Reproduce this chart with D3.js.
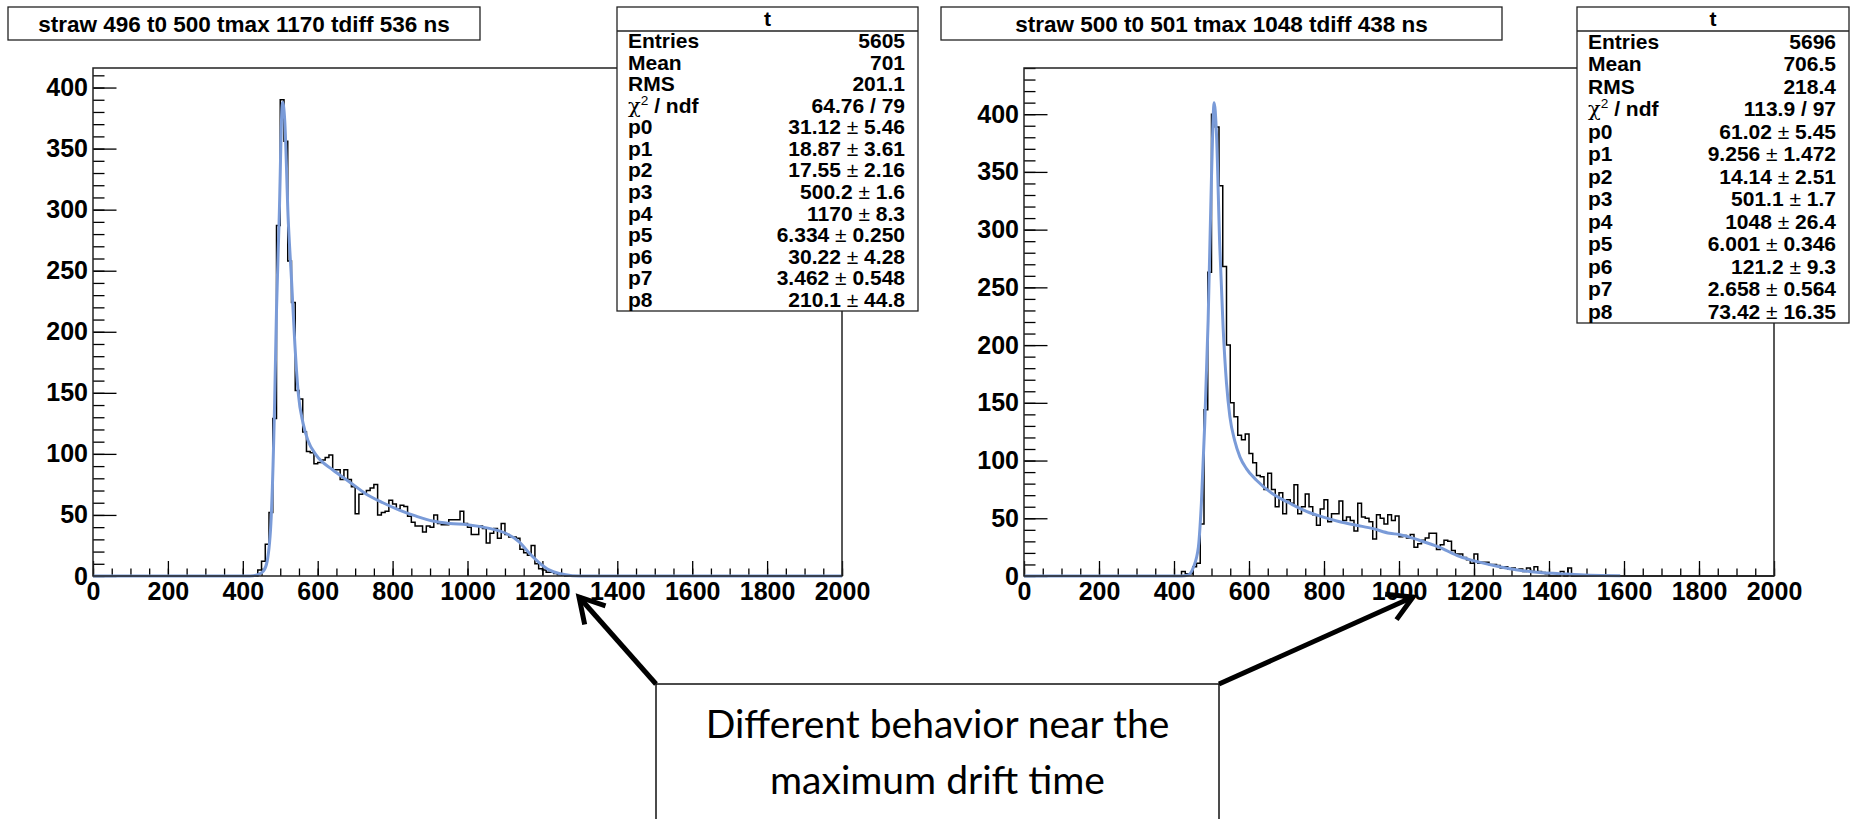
<!DOCTYPE html>
<html>
<head>
<meta charset="utf-8">
<script src="https://cdn.jsdelivr.net/npm/d3@7"></script>
<style>
  body { margin: 0; background: #fff; }
  svg { display: block; }
</style>
</head>
<body>
<div id="chart"></div>
<script>
// histogram bins are 10 ns wide, counts listed from the first filled bin, empty elsewhere
const binWidth = 10;
const xTicks = [0, 200, 400, 600, 800, 1000, 1200, 1400, 1600, 1800, 2000];

const leftTitle = "straw 496 t0 500 tmax 1170 tdiff 536 ns";
const leftStart = 440;
const leftCounts = [5, 12, 26, 52, 129, 287, 390, 356, 258, 224,
    152, 145, 118, 102, 101, 92, 93, 95, 97, 99,
    87, 87, 79, 87, 79, 73, 51, 67, 68, 70,
    72, 75, 50, 52, 53, 62, 59, 55, 58, 57,
    49, 44, 41, 41, 36, 41, 40, 50, 43, 42,
    42, 46, 46, 46, 53, 43, 40, 34, 34, 41,
    39, 27, 35, 39, 31, 43, 34, 32, 32, 31,
    22, 19, 17, 25, 10, 6, 5, 3, 3, 2,
    1, 1];
const leftFitX = [0, 420, 440, 455, 465, 476, 485, 490, 497, 506, 512, 521, 530, 539, 548, 561, 574, 596, 640, 685, 730, 774, 818, 863, 907, 952, 1000, 1058, 1102, 1138, 1164, 1191, 1218, 1245, 1280, 1320, 2000];
const leftFitY = [0, 0, 1, 4, 12, 49, 142, 218, 291, 388, 373, 294, 243, 190, 150, 125, 111, 99, 87, 77, 67, 60, 54, 49, 45, 43, 42, 39, 35, 28, 19, 11, 5, 2, 0.3, 0, 0];
const leftSummary = ["5605", "701", "201.1", "64.76 / 79"];
const leftParVals = ["31.12", "18.87", "17.55", "500.2", "1170", "6.334", "30.22", "3.462", "210.1"];
const leftParErrs = ["5.46", "3.61", "2.16", "1.6", "8.3", "0.250", "4.28", "0.548", "44.8"];

const rightTitle = "straw 500 t0 501 tmax 1048 tdiff 438 ns";
const rightStart = 420;
const rightCounts = [4, 2, 2, 8, 11, 45, 144, 263, 400, 389,
    338, 268, 200, 150, 138, 122, 118, 123, 106, 98,
    87, 86, 75, 89, 75, 60, 72, 54, 66, 63,
    79, 54, 60, 71, 60, 53, 44, 58, 66, 47,
    54, 54, 65, 48, 51, 48, 39, 63, 51, 50,
    47, 32, 53, 50, 45, 53, 48, 52, 34, 35,
    33, 36, 25, 28, 31, 33, 37, 37, 23, 27,
    31, 30, 22, 19, 19, 16, 14, 11, 19, 11,
    12, 12, 10, 10, 9, 7, 8, 6, 7, 5,
    6, 4, 7, 4, 8, 4, 3, 2, 0, 0,
    0, 4, 0, 7];
const rightFitX = [0, 420, 438, 451, 465, 473, 482, 491, 500, 507, 513, 522, 531, 540, 549, 562, 576, 593, 620, 664, 709, 753, 798, 842, 886, 931, 975, 1000, 1054, 1107, 1161, 1214, 1268, 1321, 1375, 1429, 1482, 1540, 1590];
const rightFitY = [0, 0, 1, 7, 25, 63, 132, 221, 346, 410, 385, 286, 215, 167, 138, 117, 103, 93, 83, 71, 63, 56, 51, 47, 44, 41, 37, 36, 31, 25, 17, 12, 8, 5, 3, 2, 1, 0.4, 0.2];
const rightSummary = ["5696", "706.5", "218.4", "113.9 / 97"];
const rightParVals = ["61.02", "9.256", "14.14", "501.1", "1048", "6.001", "121.2", "2.658", "73.42"];
const rightParErrs = ["5.45", "1.472", "2.51", "1.7", "26.4", "0.346", "9.3", "0.564", "16.35"];

const statNames = ["Entries", "Mean", "RMS", "chi2", "p0", "p1", "p2", "p3", "p4", "p5", "p6", "p7", "p8"];
const noteLines = ["Different behavior near the", "maximum drift time"];

const width = 1854, height = 819;
const rootFont = "'Liberation Sans', Arial, Helvetica, sans-serif";
const fitColor = "#7a9bd8";
const tickFont = 25;

const svg = d3.select("#chart").append("svg")
    .attr("width", width)
    .attr("height", height)
    .attr("viewBox", [0, 0, width, height]);

const panels = [
    { title: leftTitle, start: leftStart, counts: leftCounts, fitX: leftFitX, fitY: leftFitY,
      summary: leftSummary, parVals: leftParVals, parErrs: leftParErrs,
      frame: { left: 93, right: 842, top: 68, bottom: 576 }, yMax: 416,
      titleBox: { x: 8, y: 7, w: 472, h: 33 }, statBox: { x: 617, y: 7, w: 301, h: 304 } },
    { title: rightTitle, start: rightStart, counts: rightCounts, fitX: rightFitX, fitY: rightFitY,
      summary: rightSummary, parVals: rightParVals, parErrs: rightParErrs,
      frame: { left: 1024, right: 1774, top: 68, bottom: 576 }, yMax: 440,
      titleBox: { x: 941, y: 7, w: 561, h: 33 }, statBox: { x: 1577, y: 7, w: 272, h: 316 } }
];

panels.forEach(p => drawPanel(p));
drawNote();

function drawPanel(p) {
    const f = p.frame;
    const x = d3.scaleLinear().domain([0, 2000]).range([f.left, f.right]);
    const y = d3.scaleLinear().domain([0, p.yMax]).range([f.bottom, f.top]);
    const g = svg.append("g");

    // minor ticks first, then the labelled ones
    g.append("g")
        .attr("transform", `translate(${f.left},0)`)
        .call(d3.axisLeft(y).tickValues(d3.range(0, p.yMax + 0.1, 10)).tickSize(-11.5).tickFormat(""))
        .call(a => a.select(".domain").remove());
    g.append("g")
        .attr("transform", `translate(${f.left},0)`)
        .call(d3.axisLeft(y).tickValues(d3.range(0, p.yMax + 0.1, 50)).tickSize(-23.5).tickPadding(5).tickFormat(d => d))
        .call(a => a.select(".domain").remove())
        .call(a => a.selectAll("text").attr("font-family", rootFont).attr("font-weight", "bold").attr("font-size", tickFont).attr("fill", "#000"));

    g.append("g")
        .attr("transform", `translate(0,${f.bottom})`)
        .call(d3.axisBottom(x).tickValues(d3.range(0, 2001, 50)).tickSize(-7.5).tickFormat(""))
        .call(a => a.select(".domain").remove());
    g.append("g")
        .attr("transform", `translate(0,${f.bottom})`)
        .call(d3.axisBottom(x).tickValues(xTicks).tickSize(-15).tickPadding(6).tickFormat(d => d))
        .call(a => a.select(".domain").remove())
        .call(a => a.selectAll("text").attr("font-family", rootFont).attr("font-weight", "bold").attr("font-size", tickFont).attr("fill", "#000"));

    g.selectAll(".tick line").attr("stroke", "#000").attr("stroke-width", 1.3);

    // histogram outline
    const nBins = 2000 / binWidth;
    const bins = d3.range(nBins).map(i => {
        const k = i - p.start / binWidth;
        return [i * binWidth, k >= 0 && k < p.counts.length ? p.counts[k] : 0];
    });
    bins.push([2000, 0]);
    g.append("path")
        .datum(bins)
        .attr("fill", "none")
        .attr("stroke", "#000")
        .attr("stroke-width", 1.5)
        .attr("d", d3.line().x(d => x(d[0])).y(d => y(d[1])).curve(d3.curveStepAfter));

    // fit function
    g.append("path")
        .datum(p.fitX.map((v, i) => [v, p.fitY[i]]))
        .attr("fill", "none")
        .attr("stroke", fitColor)
        .attr("stroke-width", 3)
        .attr("stroke-linejoin", "round")
        .attr("d", d3.line().x(d => x(d[0])).y(d => y(d[1])).curve(d3.curveMonotoneX));

    g.append("rect")
        .attr("x", f.left).attr("y", f.top)
        .attr("width", f.right - f.left).attr("height", f.bottom - f.top)
        .attr("fill", "none").attr("stroke", "#222").attr("stroke-width", 1.5);

    // title box
    const tb = p.titleBox;
    g.append("rect")
        .attr("x", tb.x).attr("y", tb.y).attr("width", tb.w).attr("height", tb.h)
        .attr("fill", "#fff").attr("stroke", "#222").attr("stroke-width", 1.3);
    g.append("text")
        .attr("x", tb.x + tb.w / 2).attr("y", tb.y + tb.h / 2 + 8)
        .attr("text-anchor", "middle")
        .attr("font-family", rootFont).attr("font-weight", "bold").attr("font-size", 22.5)
        .text(p.title);

    drawStats(g, p);
}

function drawStats(g, p) {
    const b = p.statBox;
    const headH = 24;
    const rowH = (b.h - headH) / statNames.length;
    const fs = 21;
    g.append("rect")
        .attr("x", b.x).attr("y", b.y).attr("width", b.w).attr("height", b.h)
        .attr("fill", "#fff").attr("stroke", "#222").attr("stroke-width", 1.3);
    g.append("line")
        .attr("x1", b.x).attr("x2", b.x + b.w)
        .attr("y1", b.y + headH).attr("y2", b.y + headH)
        .attr("stroke", "#222").attr("stroke-width", 1.3);
    g.append("text")
        .attr("x", b.x + b.w / 2).attr("y", b.y + headH - 5)
        .attr("text-anchor", "middle")
        .attr("font-family", rootFont).attr("font-weight", "bold").attr("font-size", fs)
        .text("t");

    const values = p.summary.concat(p.parVals.map((v, i) => [v, p.parErrs[i]]));
    statNames.forEach((name, i) => {
        const base = b.y + headH + rowH * i + rowH * 0.8;
        const lab = g.append("text")
            .attr("x", b.x + 11).attr("y", base)
            .attr("font-family", rootFont).attr("font-weight", "bold").attr("font-size", fs);
        if (name === "chi2") {
            lab.append("tspan").attr("font-family", "'DejaVu Serif', serif").attr("font-weight", "normal").text("\u03c7");
            lab.append("tspan").attr("font-size", fs * 0.65).attr("dy", -8).attr("font-weight", "normal").text("2");
            lab.append("tspan").attr("dy", 8).text(" / ndf");
        } else {
            lab.text(name);
        }
        const val = g.append("text")
            .attr("x", b.x + b.w - 13).attr("y", base)
            .attr("text-anchor", "end")
            .attr("font-family", rootFont).attr("font-weight", "bold").attr("font-size", fs);
        const v = values[i];
        if (Array.isArray(v)) {
            val.append("tspan").text(v[0] + " ");
            val.append("tspan").attr("font-weight", "normal").text("\u00b1");
            val.append("tspan").text(" " + v[1]);
        } else {
            val.text(v);
        }
    });
}

function drawNote() {
    const box = { x: 656, y: 684, w: 563 };
    const g = svg.append("g");
    g.append("rect")
        .attr("x", box.x).attr("y", box.y).attr("width", box.w).attr("height", 160)
        .attr("fill", "#fff").attr("stroke", "#111").attr("stroke-width", 1.5);
    noteLines.forEach((t, i) => {
        g.append("text")
            .attr("x", box.x + box.w / 2).attr("y", box.y + 54 + i * 56)
            .attr("text-anchor", "middle")
            .attr("font-family", "Lato, 'Open Sans', sans-serif").attr("font-size", 39)
            .attr("fill", "#000")
            .text(t);
    });
    const arrows = [
        { from: [box.x, box.y], to: [579, 597] },
        { from: [box.x + box.w, box.y], to: [1413, 597] }
    ];
    arrows.forEach(a => {
        g.append("line")
            .attr("x1", a.from[0]).attr("y1", a.from[1])
            .attr("x2", a.to[0]).attr("y2", a.to[1])
            .attr("stroke", "#000").attr("stroke-width", 5);
        const ang = Math.atan2(a.from[1] - a.to[1], a.from[0] - a.to[0]);
        const len = 28, spread = 0.52;
        const p1 = [a.to[0] + len * Math.cos(ang - spread), a.to[1] + len * Math.sin(ang - spread)];
        const p2 = [a.to[0] + len * Math.cos(ang + spread), a.to[1] + len * Math.sin(ang + spread)];
        g.append("path")
            .attr("d", `M${p1}L${a.to}L${p2}`)
            .attr("fill", "none").attr("stroke", "#000").attr("stroke-width", 5)
            .attr("stroke-linejoin", "miter");
    });
}
</script>
</body>
</html>
